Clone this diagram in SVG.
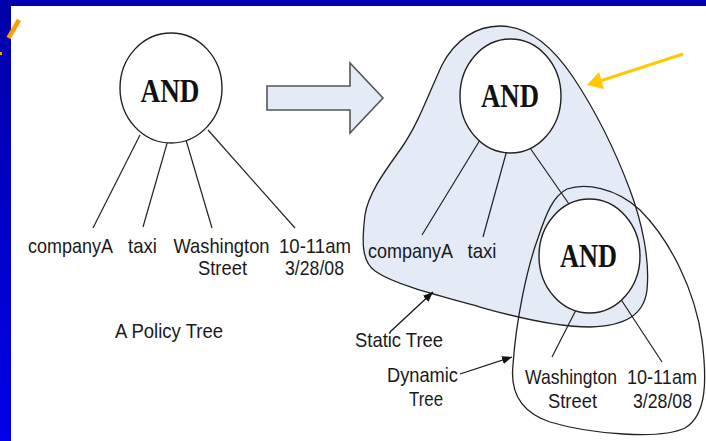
<svg xmlns="http://www.w3.org/2000/svg" width="706" height="441" viewBox="0 0 706 441">
  <defs>
    <linearGradient id="sideBand" x1="0" y1="0" x2="0" y2="1">
      <stop offset="0" stop-color="#0000a8"/>
      <stop offset="1" stop-color="#0000e8"/>
    </linearGradient>
    <marker id="tip" viewBox="0 0 10 8" refX="10" refY="4" markerWidth="10" markerHeight="8" markerUnits="userSpaceOnUse" orient="auto">
      <path d="M0,0 L10,4 L0,8 Z" fill="#111"/>
    </marker>
    <style>
      .edge { stroke: #222; stroke-width: 1.2; fill: none; }
      .node { fill: #fff; stroke: #222; stroke-width: 1.4; }
      .op { font-family: "Liberation Serif", "Times New Roman", serif; font-weight: bold; font-size: 34px; fill: #111; text-anchor: middle; }
      .lbl { font-family: "Liberation Sans", Arial, sans-serif; font-size: 21px; fill: #1a1a1a; text-anchor: middle; }
      .region { fill: #e4ebf6; stroke: #222; stroke-width: 1.3; }
      .outline { fill: none; stroke: #222; stroke-width: 1.3; }
      .pointer { stroke: #111; stroke-width: 1.2; fill: none; marker-end: url(#tip); }
    </style>
  </defs>

  <!-- page background and slide frame -->
  <rect x="0" y="0" width="706" height="441" fill="#fff"/>
  <rect x="0" y="0" width="706" height="6" fill="#0000b4"/>
  <rect x="0" y="0" width="11" height="441" fill="url(#sideBand)"/>
  <line x1="19" y1="20" x2="8.5" y2="38" stroke="#ff9c00" stroke-width="4.5"/>
  <rect x="0" y="52" width="2" height="3" fill="#ff9c00"/>

  <!-- left: the policy tree -->
  <g id="policy-tree">
    <g id="policy-edges">
      <line class="edge" x1="140" y1="135" x2="93" y2="228"/>
      <line class="edge" x1="168" y1="140" x2="143" y2="227"/>
      <line class="edge" x1="186" y1="140" x2="212" y2="228"/>
      <line class="edge" x1="208" y1="130" x2="295" y2="228"/>
    </g>
    <g id="policy-and">
      <ellipse class="node" cx="171" cy="88" rx="51" ry="55"/>
      <text class="op" x="170" y="102" textLength="59" lengthAdjust="spacingAndGlyphs">AND</text>
    </g>
    <g id="policy-companyA"><text class="lbl" x="70.5" y="253" textLength="85" lengthAdjust="spacingAndGlyphs">companyA</text></g>
    <g id="policy-taxi"><text class="lbl" x="142.5" y="253" textLength="29" lengthAdjust="spacingAndGlyphs">taxi</text></g>
    <g id="policy-street">
      <text class="lbl" x="221.5" y="253" textLength="96" lengthAdjust="spacingAndGlyphs">Washington</text>
      <text class="lbl" x="222.5" y="275" textLength="49" lengthAdjust="spacingAndGlyphs">Street</text>
    </g>
    <g id="policy-time">
      <text class="lbl" x="315" y="253" textLength="72" lengthAdjust="spacingAndGlyphs">10-11am</text>
      <text class="lbl" x="314.5" y="275" textLength="59" lengthAdjust="spacingAndGlyphs">3/28/08</text>
    </g>
    <g id="policy-caption"><text class="lbl" x="169" y="338" textLength="108" lengthAdjust="spacingAndGlyphs">A Policy Tree</text></g>
  </g>

  <!-- block arrow between the two trees -->
  <g id="transform-arrow">
    <polygon points="267,86 350,86 350,63 383,98 350,133 350,110 267,110" fill="#e4ebf6" stroke="#555" stroke-width="1.6" stroke-linejoin="miter"/>
  </g>

  <!-- right: static and dynamic sub-trees -->
  <g id="static-region">
    <path class="region" d="M500,26 C530,26 555,50 573,77 C595,110 615,150 630,190 C642,222 650,260 647,290 C644,315 625,326 590,327 C555,327 515,317 480,307 C440,296 395,285 375,271 C361,261 362,240 365,215 C368,195 382,175 400,150 C418,125 428,95 442,65 C455,40 476,26 500,26 Z"/>
  </g>
  <g id="dynamic-region">
    <path class="outline" d="M567,189 C585,183 615,187 640,210 C670,240 695,290 702,340 C707,380 707,415 685,428 C660,440 590,434 550,422 C520,412 510,392 513,365 C516,320 527,268 538,238 C546,214 553,196 567,189 Z"/>
  </g>

  <g id="connectors">
    <line class="edge" x1="480" y1="140" x2="422" y2="235"/>
    <line class="edge" x1="507" y1="150" x2="483" y2="237"/>
    <line class="edge" x1="530" y1="148" x2="569" y2="204"/>
    <line class="edge" x1="577" y1="308" x2="552" y2="357"/>
    <line class="edge" x1="620" y1="298" x2="662" y2="362"/>
    <line class="pointer" x1="390" y1="332" x2="433" y2="292"/>
    <line class="pointer" x1="460" y1="374" x2="512" y2="357"/>
    <line x1="683" y1="54" x2="600" y2="81" stroke="#ffc800" stroke-width="3"/>
    <polygon points="587,85 599,72 604,89" fill="#ffc800"/>
  </g>

  <g id="static-and">
    <ellipse class="node" cx="510.5" cy="96" rx="50.5" ry="57"/>
    <text class="op" x="510" y="107" textLength="58" lengthAdjust="spacingAndGlyphs">AND</text>
  </g>
  <g id="dynamic-and">
    <ellipse class="node" cx="589.5" cy="256" rx="50.5" ry="57"/>
    <text class="op" x="588.5" y="267" textLength="57" lengthAdjust="spacingAndGlyphs">AND</text>
  </g>
  <g id="static-companyA"><text class="lbl" x="410.5" y="258" textLength="85" lengthAdjust="spacingAndGlyphs">companyA</text></g>
  <g id="static-taxi"><text class="lbl" x="482" y="258" textLength="29" lengthAdjust="spacingAndGlyphs">taxi</text></g>
  <g id="dynamic-street">
    <text class="lbl" x="571" y="384" textLength="92" lengthAdjust="spacingAndGlyphs">Washington</text>
    <text class="lbl" x="572.5" y="408" textLength="49" lengthAdjust="spacingAndGlyphs">Street</text>
  </g>
  <g id="dynamic-time">
    <text class="lbl" x="662" y="384" textLength="70" lengthAdjust="spacingAndGlyphs">10-11am</text>
    <text class="lbl" x="662.5" y="408" textLength="59" lengthAdjust="spacingAndGlyphs">3/28/08</text>
  </g>
  <g id="static-label"><text class="lbl" x="399" y="347" textLength="88" lengthAdjust="spacingAndGlyphs">Static Tree</text></g>
  <g id="dynamic-label">
    <text class="lbl" x="422.5" y="382" textLength="71" lengthAdjust="spacingAndGlyphs">Dynamic</text>
    <text class="lbl" x="426" y="406" textLength="34" lengthAdjust="spacingAndGlyphs">Tree</text>
  </g>
</svg>
